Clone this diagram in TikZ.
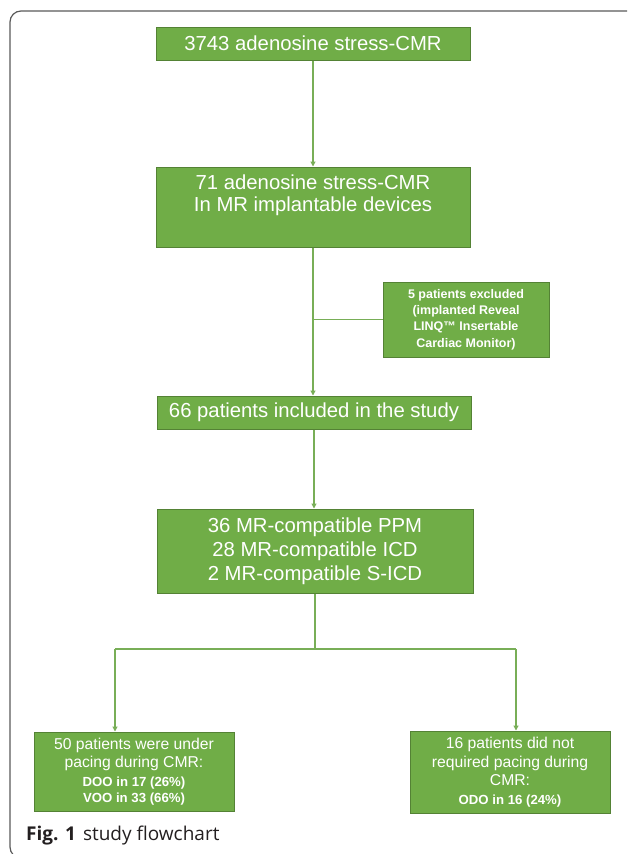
\documentclass[tikz,border=0pt]{standalone}
\usepackage{fontspec}
\setmainfont{Liberation Sans}
\newfontfamily\capfont{Open Sans}
\usetikzlibrary{arrows.meta}
\definecolor{boxfill}{HTML}{70AD47}
\definecolor{boxdraw}{HTML}{548235}
\definecolor{linegreen}{HTML}{78AE57}
\definecolor{framegray}{HTML}{5A5A5A}
\definecolor{captext}{HTML}{231F20}
\begin{document}
\begin{tikzpicture}[x=1pt,y=-1pt,
  box/.style={draw=boxdraw, fill=boxfill, line width=1pt, text=white, align=center, inner sep=0pt},
  big/.style={font=\fontsize{20.3}{22}\selectfont},
  mid/.style={font=\fontsize{15.7}{18.5}\selectfont},
  arr/.style={draw=linegreen, line width=1.1pt, -{Triangle[length=5pt,width=5pt]}},
  ln/.style={draw=linegreen, line width=1.1pt}]
\useasboundingbox (0,0) rectangle (627,854);
\fill[white] (0,0) rectangle (627,854);
\begin{scope}
  \clip (0,0) rectangle (627,854);
  \draw[framegray, line width=1.2pt, rounded corners=11pt] (10,11) rectangle (660,858);
\end{scope}

\node[box,big,minimum width=314pt,minimum height=33pt] (b1) at (313,43.5) {3743 adenosine stress-CMR};
\node[box,big,minimum width=314pt,minimum height=80pt] (b2) at (313,207) {71 adenosine stress-CMR\\In MR implantable devices\\\strut};
\node[box,font=\bfseries\fontsize{12.5}{16.3}\selectfont,minimum width=166pt,minimum height=75pt] (b3) at (466,319.5) {5 patients excluded\\(implanted Reveal\\LINQ™ Insertable\\Cardiac Monitor)};
\node[box,big,minimum width=314pt,minimum height=33pt] (b4) at (314,412.5) {66 patients included in the study};
\node[box,font=\fontsize{20.3}{24}\selectfont,minimum width=316pt,minimum height=84pt] (b5) at (315,551) {36 MR-compatible PPM\\28 MR-compatible ICD\\2 MR-compatible S-ICD};
\node[box,mid,minimum width=200pt,minimum height=79pt] (L) at (134,771.5) {50 patients were under\\pacing during CMR:\\{\bfseries\fontsize{13.2}{15}\selectfont DOO in 17 (26\%)}\\[-2pt]{\bfseries\fontsize{13.2}{15}\selectfont VOO in 33 (66\%)}};
\node[box,mid,minimum width=200pt,minimum height=82pt] (R) at (510,772) {16 patients did not\\required pacing during\\CMR:\\{\bfseries\fontsize{13.2}{15}\selectfont ODO in 16 (24\%)}};

\coordinate (j1) at (b2.south |- b3.west);
\coordinate (split) at (314,649);
\coordinate (jL) at (115,649);
\coordinate (jR) at (516,649);

\draw[arr] (b1) -- (b2);
\draw[arr] (b2.south) -- (b2.south |- b4.north);
\draw[ln] (j1) -- (b3.west);
\draw[arr] (b4.south) -- (b4.south |- b5.north);
\draw[ln] (b5.south) -- (b5.south |- split);
\draw[ln] (jL) -- (jR);
\draw[arr] (jL) -- (jL |- L.north);
\draw[arr] (jR) -- (jR |- R.north);

\node[anchor=base west,inner sep=0pt,text=captext,font=\capfont\fontsize{19}{22}\selectfont] (cap) at (26,840) {\textbf{Fig. 1}\hspace{7pt}study flowchart};
\end{tikzpicture}
\end{document}
